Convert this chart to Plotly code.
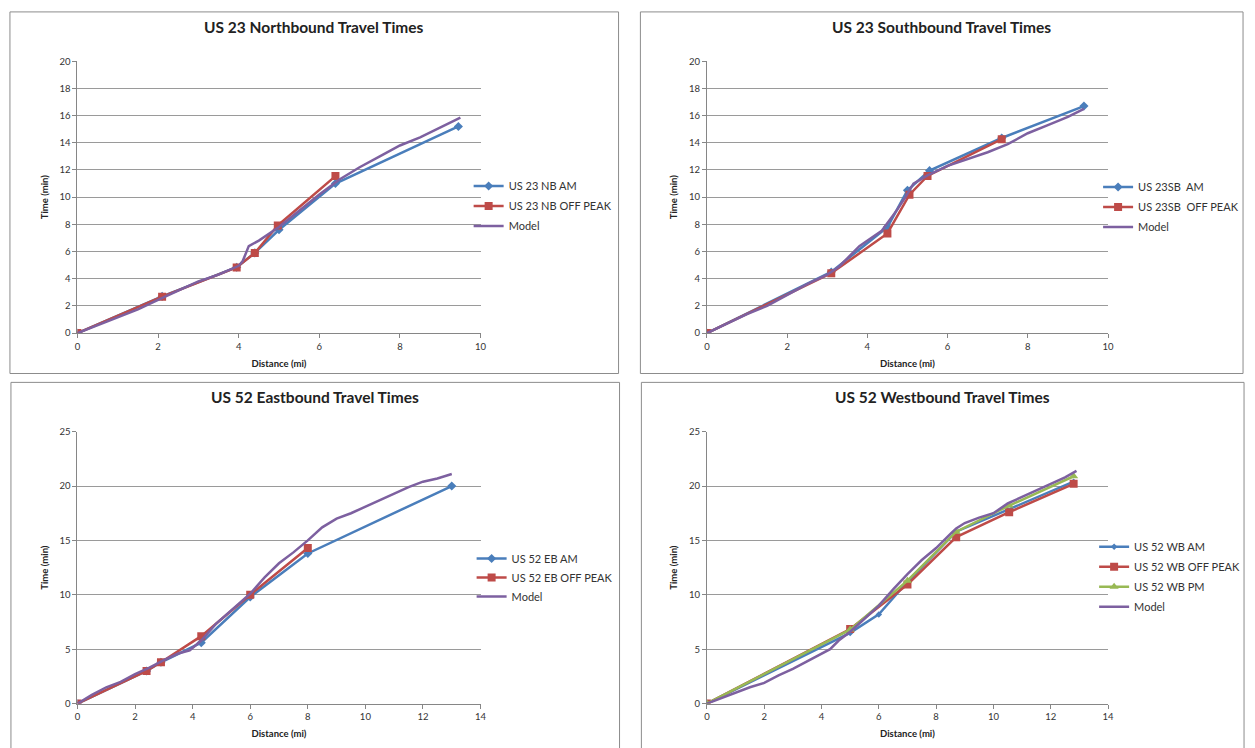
import plotly.graph_objects as go

# ---------------- data ----------------
titles = ["US 23 Northbound Travel Times", "US 23 Southbound Travel Times",
          "US 52 Eastbound Travel Times", "US 52 Westbound Travel Times"]

# US 23 NB
nb_am_x = [0, 2.1, 3.95, 4.4, 5.0, 6.4, 9.45]
nb_am_y = [0, 2.7, 4.85, 5.9, 7.6, 11.0, 15.2]
nb_off_x = [0, 2.1, 3.95, 4.4, 4.97, 6.4]
nb_off_y = [0, 2.68, 4.83, 5.9, 7.92, 11.55]
nb_model_x = [0, 0.5, 1, 1.5, 2, 2.5, 3, 3.5, 4.0, 4.1, 4.25, 4.5, 5.0, 5.5, 6.0, 6.5, 7.0, 7.5, 8.0, 8.5, 9.0, 9.5]
nb_model_y = [0, 0.6, 1.2, 1.75, 2.45, 3.1, 3.8, 4.3, 4.95, 5.3, 6.4, 6.8, 7.8, 9.0, 10.2, 11.3, 12.2, 13.0, 13.8, 14.4, 15.1, 15.85]

# US 23 SB
sb_am_x = [0, 3.1, 4.5, 5.0, 5.55, 7.35, 9.4]
sb_am_y = [0, 4.5, 7.8, 10.5, 11.95, 14.35, 16.7]
sb_off_x = [0, 3.1, 4.5, 5.05, 5.5, 7.35]
sb_off_y = [0, 4.4, 7.33, 10.18, 11.56, 14.26]
sb_model_x = [0, 0.5, 1, 1.5, 2, 2.5, 3, 3.3, 3.5, 3.8, 4.05, 4.35, 4.75, 4.95, 5.15, 5.5, 6, 6.5, 7, 7.5, 8, 8.5, 9, 9.4]
sb_model_y = [0, 0.7, 1.4, 2.0, 2.8, 3.6, 4.3, 4.9, 5.5, 6.4, 6.9, 7.5, 9.1, 10.0, 11.0, 11.6, 12.3, 12.8, 13.3, 13.9, 14.7, 15.3, 15.9, 16.5]

# US 52 EB
eb_am_x = [0, 2.4, 2.9, 4.3, 6.0, 8.0, 13.0]
eb_am_y = [0, 3.0, 3.8, 5.6, 9.8, 13.8, 20.0]
eb_off_x = [0, 2.4, 2.9, 4.3, 6.0, 8.0]
eb_off_y = [0, 3.0, 3.8, 6.2, 10.0, 14.3]
eb_model_x = [0, 0.5, 1, 1.5, 2, 2.5, 3, 3.5, 3.9, 4.3, 4.8, 5.3, 6, 6.5, 7, 7.5, 8, 8.5, 9, 9.5, 10, 10.5, 11, 11.5, 12, 12.5, 13]
eb_model_y = [0, 0.8, 1.5, 2.0, 2.7, 3.3, 4.0, 4.6, 4.9, 5.8, 7.3, 8.5, 10.1, 11.6, 12.9, 13.9, 15.0, 16.2, 17.0, 17.5, 18.1, 18.7, 19.3, 19.9, 20.4, 20.7, 21.1]

# US 52 WB
wb_am_x = [0, 5.0, 6.0, 7.0, 8.7, 10.5, 12.8]
wb_am_y = [0, 6.5, 8.2, 11.2, 15.8, 17.8, 20.4]
wb_off_x = [0, 5.0, 7.0, 8.7, 10.55, 12.8]
wb_off_y = [0, 6.85, 10.95, 15.3, 17.6, 20.2]
wb_pm_x = [0, 5.0, 7.0, 8.7, 10.55, 12.8]
wb_pm_y = [0, 6.8, 11.3, 15.8, 18.2, 20.9]
wb_model_x = [0, 0.5, 1, 1.5, 2, 2.5, 3, 3.5, 4, 4.3, 4.6, 5, 5.5, 6, 6.5, 7, 7.5, 8, 8.5, 8.7, 9, 9.5, 10, 10.5, 11, 11.5, 12, 12.5, 12.9]
wb_model_y = [0, 0.5, 1.0, 1.5, 1.9, 2.6, 3.2, 3.9, 4.6, 5.0, 5.8, 6.6, 7.8, 9.0, 10.5, 11.9, 13.2, 14.3, 15.6, 16.1, 16.6, 17.1, 17.5, 18.4, 19.0, 19.6, 20.2, 20.8, 21.4]

# ---------------- styling ----------------
W, H = 1255, 748
BLUE, RED, GREEN, PURPLE = "#4A7EBB", "#BE4B48", "#98B954", "#7D60A0"
GRID = "#9A9A9A"
FONT = "Lato"

def px(x):
    return x / W

def py(y):
    return 1 - y / H

fig = go.Figure()

# plot area (pixels): x0, x1, ytop, ybottom
areas = [(75, 481, 56, 332), (709, 1113, 56, 332), (75, 481, 432, 708), (709, 1113, 432, 708)]
frames = [(7, 620, 6, 373), (642, 1249, 6, 373), (8, 621, 382, 760), (643, 1250, 382, 760)]
xranges = [10, 10, 14, 14]
yranges = [20, 20, 25, 25]
ydticks = [2, 2, 5, 5]
legend_pos = [(469, 168), (1103, 169), (472, 546), (1099, 534)]
legend_gap = [1, 1, 0, 1]


def add(i, x, y, name, color, symbol=None, msize=8, lw=2.5):
    ax = "" if i == 0 else str(i + 1)
    mode = "lines+markers" if symbol else "lines"
    fig.add_trace(go.Scatter(
        x=x, y=y, name=name, mode=mode,
        line=dict(color=color, width=lw),
        marker=dict(symbol=symbol, size=msize, color=color) if symbol else None,
        xaxis="x" + ax, yaxis="y" + ax,
        legend="legend" + ax, legendgroup=name + ax,
    ))

add(0, nb_am_x, nb_am_y, "US 23 NB AM", BLUE, "diamond", 7)
add(0, nb_off_x, nb_off_y, "US 23 NB OFF PEAK", RED, "square", 8)
add(0, nb_model_x, nb_model_y, "Model", PURPLE)

add(1, sb_am_x, sb_am_y, "US 23SB  AM", BLUE, "diamond", 7)
add(1, sb_off_x, sb_off_y, "US 23SB  OFF PEAK", RED, "square", 8)
add(1, sb_model_x, sb_model_y, "Model", PURPLE)

add(2, eb_am_x, eb_am_y, "US 52 EB AM", BLUE, "diamond", 7)
add(2, eb_off_x, eb_off_y, "US 52 EB OFF PEAK", RED, "square", 8)
add(2, eb_model_x, eb_model_y, "Model", PURPLE)

add(3, wb_am_x, wb_am_y, "US 52 WB AM", BLUE, "diamond", 5)
add(3, wb_off_x, wb_off_y, "US 52 WB OFF PEAK", RED, "square", 8)
add(3, wb_pm_x, wb_pm_y, "US 52 WB PM", GREEN, "triangle-up", 8)
add(3, wb_model_x, wb_model_y, "Model", PURPLE)

layout = dict(
    width=W, height=H,
    margin=dict(l=0, r=0, t=0, b=0),
    paper_bgcolor="white", plot_bgcolor="white",
    font=dict(family=FONT, color="#222222"),
    shapes=[], annotations=[],
)

for i in range(4):
    ax = "" if i == 0 else str(i + 1)
    x0, x1, yt, yb = areas[i]
    layout["xaxis" + ax] = dict(
        domain=[px(x0), px(x1)], range=[0, xranges[i]], dtick=2,
        showgrid=False, zeroline=False, showline=True, linecolor="#868686", linewidth=1,
        ticks="outside", ticklen=4, tickcolor="#868686",
        tickfont=dict(size=9.5, color="#333333", family=FONT),
        title=dict(text="<b>Distance (mi)</b>", font=dict(size=9.5, family=FONT, color="#222222"), standoff=9),
        anchor="y" + ax, fixedrange=True,
    )
    layout["yaxis" + ax] = dict(
        domain=[py(yb), py(yt)], range=[0, yranges[i]], dtick=ydticks[i],
        showgrid=True, gridcolor=GRID, gridwidth=1.4, zeroline=False,
        showline=True, linecolor="#868686", linewidth=1,
        ticks="outside", ticklen=4, tickcolor="#868686",
        tickfont=dict(size=9.5, color="#333333", family=FONT),
        title=dict(text="<b>Time (min)</b>", font=dict(size=9.5, family=FONT, color="#222222"), standoff=9),
        anchor="x" + ax, fixedrange=True,
    )
    lx, ly = legend_pos[i]
    layout["legend" + ax] = dict(
        x=px(lx), y=py(ly), xanchor="left", yanchor="top",
        font=dict(size=11, family=FONT, color="#333333"),
        bgcolor="rgba(0,0,0,0)", borderwidth=0, tracegroupgap=legend_gap[i],
    )
    fx0, fx1, fy0, fy1 = frames[i]
    layout["shapes"].append(dict(
        type="rect", xref="paper", yref="paper",
        x0=px(fx0), x1=px(fx1), y0=py(fy1), y1=py(fy0),
        line=dict(color="#8C8C8C", width=1), fillcolor="rgba(0,0,0,0)", layer="below",
    ))
    cx = (fx0 + fx1) / 2
    ty = 21 if i < 2 else 397
    layout["annotations"].append(dict(
        text="<b>" + titles[i] + "</b>", x=px(cx), y=py(ty), xref="paper", yref="paper",
        xanchor="center", yanchor="middle", showarrow=False,
        font=dict(size=15.5, family=FONT, color="#222222"),
    ))

fig.update_layout(**layout)
fig.write_html(
    "out.html",
    config={"displayModeBar": False},
    post_script="document.body.style.margin='0';document.body.style.overflow='hidden';",
)
